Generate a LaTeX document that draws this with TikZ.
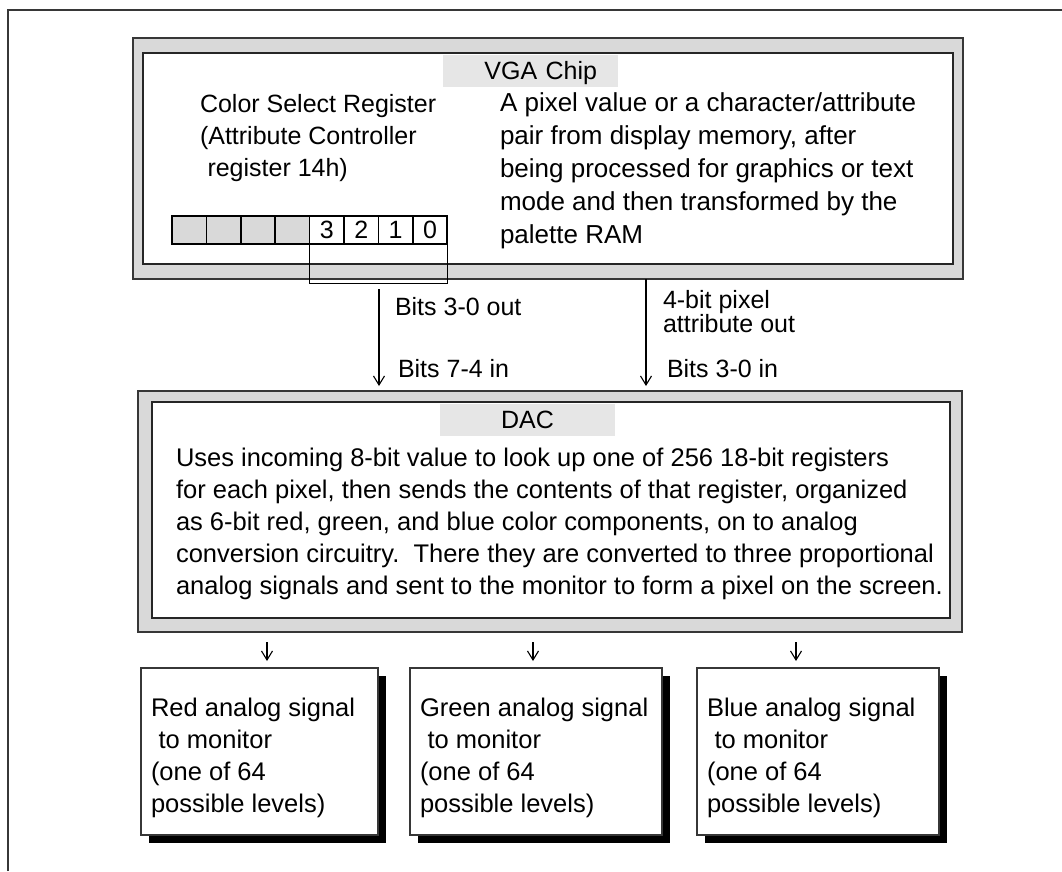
\documentclass[tikz,border=0pt]{standalone}
\usepackage{fontspec}
\setmainfont{Liberation Sans}
\usepackage{tikz}
\usetikzlibrary{arrows.meta, positioning, calc, shadows}
\definecolor{framegray}{RGB}{217,217,217}
\definecolor{labelgray}{RGB}{230,230,230}
\definecolor{edgegray}{RGB}{55,55,55}

\begin{document}
\begin{tikzpicture}[x=1pt, y=-1pt,
    every node/.style={inner sep=0pt, outer sep=0pt, font=\fontsize{25}{32}\selectfont},
    chipframe/.style={draw=edgegray, fill=framegray, line width=1.4pt, anchor=north west},
    chipinner/.style={draw=black!85, fill=white, line width=1.4pt, anchor=north west},
    chiplabel/.style={fill=labelgray, minimum width=175pt, minimum height=32pt,
        text height=17.5pt, text depth=0pt, anchor=north west},
    regcell/.style={draw=black, line width=1.6pt, minimum width=34.4pt, minimum height=28pt, anchor=north west},
    sig/.style={-{Straight Barb[length=9pt,width=11pt]}, line width=1.1pt},
    outbox/.style={draw=edgegray, fill=white, line width=1.2pt, anchor=north west, minimum height=167pt,
        drop shadow={shadow xshift=8pt, shadow yshift=-8pt, fill=black, opacity=1}},
    outtext/.style={anchor=north west, align=left, font=\fontsize{25.5}{32}\selectfont}]
    \useasboundingbox (0,0) rectangle (1062,871);

    % page frame
    \draw[edgegray, line width=1.4pt] (8,871) -- (8,10) -- (1062,10);

    % VGA chip
    \node[chipframe, minimum width=830pt, minimum height=241pt] (vga) at (133,38) {};
    \node[chipinner, minimum width=810pt, minimum height=211pt] (vgain) at (143,53) {};
    \node[chiplabel, text width=133pt, inner xsep=21pt, align=right] (vgalabel) at (443,54.5) {VGA Chip};
    \node[anchor=north west, align=left] (csr) at (200,94)
        {Color Select Register\\(Attribute Controller\\\hspace{0.3em}register 14h)};
    \node[anchor=north west, align=left, font=\fontsize{26}{33}\selectfont] (pixval) at (500,93)
        {A pixel value or a character/attribute\\pair from display memory, after\\being processed for graphics or text\\mode and then transformed by the\\palette RAM};

    % color select register bits
    \foreach \i in {0,...,3}
        \node[regcell, fill=framegray] (c\i) at (172+\i*34.4,216) {};
    \foreach \i/\b in {4/3,5/2,6/1,7/0}
        \node[regcell, fill=white] (c\i) at (172+\i*34.4,216) {\b};
    \draw[line width=1pt] (c4.south west) -- ++(0,39) -| (c7.south east);

    % DAC
    \node[chipframe, minimum width=824pt, minimum height=241pt] (dac) at (138,391) {};
    \node[chipinner, minimum width=798pt, minimum height=216pt] (dacin) at (152,402) {};
    \node[chiplabel, align=center] (daclabel) at (440,403.5) {DAC};
    \node[anchor=north west, align=left, font=\fontsize{25.5}{32}\selectfont] (lookup) at (176,448.5)
        {Uses incoming 8-bit value to look up one of 256 18-bit registers\\for each pixel, then sends the contents of that register, organized\\as 6-bit red, green, and blue color components, on to analog\\conversion circuitry.\ \ There they are converted to three proportional\\analog signals and sent to the monitor to form a pixel on the screen.};

    % VGA -> DAC
    \coordinate (bitsout) at (379,289);
    \coordinate (pixout) at (646,279);
    \draw[sig, shorten >=5pt] (bitsout) -- (bitsout |- dac.north);
    \draw[sig, shorten >=5pt] (pixout) -- (pixout |- dac.north);
    \node[anchor=base west] (outlbl) at (395,315) {Bits 3-0 out};
    \node[anchor=base west] (inlbl) at (398,377) {Bits 7-4 in};
    \node[anchor=base west, align=left, font=\fontsize{25}{24}\selectfont] (attrlbl) at (663,332) {4-bit pixel\\attribute out};
    \node[anchor=base west] (in2lbl) at (667,377) {Bits 3-0 in};

    % analog outputs
    \node[outbox, minimum width=237pt] (redbox) at (141,668) {};
    \node[outbox, minimum width=252pt] (greenbox) at (410,668) {};
    \node[outbox, minimum width=242pt] (bluebox) at (697,668) {};
    \node[outtext] (redtxt) at ($(redbox.north west)+(10,30)$)
        {Red analog signal\\\hspace{0.3em}to monitor\\(one of 64\\possible levels)};
    \node[outtext] (greentxt) at ($(greenbox.north west)+(10,30)$)
        {Green analog signal\\\hspace{0.3em}to monitor\\(one of 64\\possible levels)};
    \node[outtext] (bluetxt) at ($(bluebox.north west)+(10,30)$)
        {Blue analog signal\\\hspace{0.3em}to monitor\\(one of 64\\possible levels)};
    \foreach \b/\x in {redbox/267, greenbox/533, bluebox/796}
        \draw[sig, shorten <=10pt, shorten >=7pt] (dac.south -| \x,0) -- (\b.north -| \x,0);
\end{tikzpicture}
\end{document}
